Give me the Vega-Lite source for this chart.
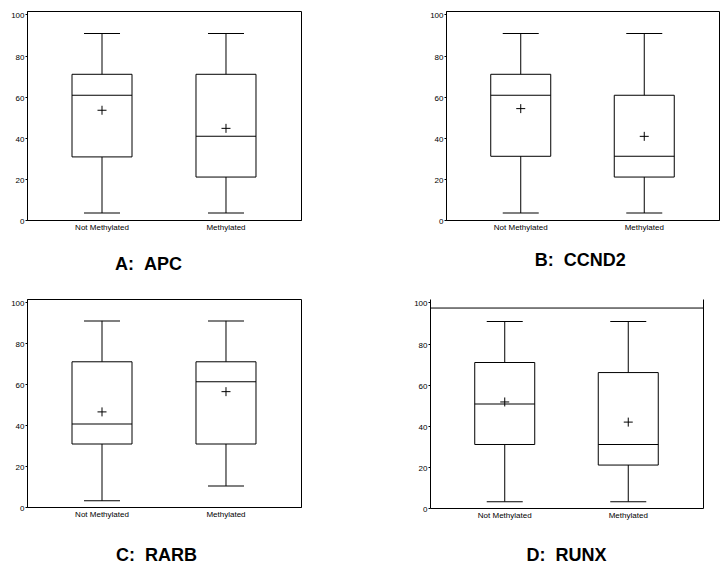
{
  "$schema": "https://vega.github.io/schema/vega-lite/v6.json",
  "padding": {"left": 0, "top": 10, "right": 0, "bottom": 0},
  "background": "white",
  "datasets": {
    "stats": [
      {"panel": "A", "group": "Not Methylated", "min": 3.4, "q1": 30.7, "median": 60.7, "q3": 70.9, "max": 90.7, "mean": 53.4},
      {"panel": "A", "group": "Methylated", "min": 3.4, "q1": 20.9, "median": 40.7, "q3": 70.9, "max": 90.7, "mean": 44.6},
      {"panel": "B", "group": "Not Methylated", "min": 3.4, "q1": 31.0, "median": 60.7, "q3": 70.9, "max": 90.7, "mean": 54.2},
      {"panel": "B", "group": "Methylated", "min": 3.4, "q1": 20.9, "median": 31.0, "q3": 60.7, "max": 90.7, "mean": 40.7},
      {"panel": "C", "group": "Not Methylated", "min": 3.0, "q1": 30.8, "median": 40.6, "q3": 71.0, "max": 91.0, "mean": 46.5},
      {"panel": "C", "group": "Methylated", "min": 10.3, "q1": 30.8, "median": 61.3, "q3": 71.0, "max": 91.0, "mean": 56.4},
      {"panel": "D", "group": "Not Methylated", "min": 3.1, "q1": 30.9, "median": 50.6, "q3": 70.8, "max": 90.8, "mean": 51.6},
      {"panel": "D", "group": "Methylated", "min": 3.1, "q1": 20.9, "median": 30.9, "q3": 65.9, "max": 90.8, "mean": 41.8}
    ],
    "ref": [{"panel": "D", "level": 97.3}]
  },
  "vconcat": [
    {
      "spacing": 117,
      "hconcat": [
        {
          "width": 274, "height": 209,
          "data": {"name": "stats"},
          "transform": [{"filter": "datum.panel == 'A'"}],
          "encoding": {"x": {"field": "group", "type": "nominal", "sort": ["Not Methylated", "Methylated"], "scale": {"paddingInner": 0.5, "paddingOuter": 0.355}, "axis": {"title": "A:\u00a0\u00a0APC", "titleX": 121, "titleY": 44.7, "titleBaseline": "middle", "titleAlign": "center"}}},
          "layer": [
            {"mark": {"type": "rule", "color": "black", "strokeWidth": 1}, "encoding": {"y": {"field": "min", "type": "quantitative", "title": null, "scale": {"domain": [0, 101.7], "nice": false}, "axis": {"values": [0, 20, 40, 60, 80, 100]}}, "y2": {"field": "max"}}},
            {"mark": {"type": "bar", "fill": "white", "stroke": "black", "strokeWidth": 1, "width": 60}, "encoding": {"y": {"field": "q1", "type": "quantitative", "title": null}, "y2": {"field": "q3"}}},
            {"mark": {"type": "tick", "color": "black", "size": 60, "thickness": 1, "opacity": 1}, "encoding": {"y": {"field": "median", "type": "quantitative", "title": null}}},
            {"mark": {"type": "tick", "color": "black", "size": 36, "thickness": 1, "opacity": 1}, "encoding": {"y": {"field": "min", "type": "quantitative", "title": null}}},
            {"mark": {"type": "tick", "color": "black", "size": 36, "thickness": 1, "opacity": 1}, "encoding": {"y": {"field": "max", "type": "quantitative", "title": null}}},
            {"mark": {"type": "point", "shape": "M-1,0H1M0,-1V1", "filled": false, "stroke": "black", "strokeWidth": 1, "size": 81, "opacity": 1}, "encoding": {"y": {"field": "mean", "type": "quantitative", "title": null}}}
          ]
        },
        {
          "width": 273, "height": 209,
          "data": {"name": "stats"},
          "transform": [{"filter": "datum.panel == 'B'"}],
          "encoding": {"x": {"field": "group", "type": "nominal", "sort": ["Not Methylated", "Methylated"], "scale": {"paddingInner": 0.5, "paddingOuter": 0.355}, "axis": {"title": "B:\u00a0\u00a0CCND2", "titleX": 133.7, "titleY": 40, "titleBaseline": "middle", "titleAlign": "center"}}},
          "layer": [
            {"mark": {"type": "rule", "color": "black", "strokeWidth": 1}, "encoding": {"y": {"field": "min", "type": "quantitative", "title": null, "scale": {"domain": [0, 101.7], "nice": false}, "axis": {"values": [0, 20, 40, 60, 80, 100]}}, "y2": {"field": "max"}}},
            {"mark": {"type": "bar", "fill": "white", "stroke": "black", "strokeWidth": 1, "width": 60}, "encoding": {"y": {"field": "q1", "type": "quantitative", "title": null}, "y2": {"field": "q3"}}},
            {"mark": {"type": "tick", "color": "black", "size": 60, "thickness": 1, "opacity": 1}, "encoding": {"y": {"field": "median", "type": "quantitative", "title": null}}},
            {"mark": {"type": "tick", "color": "black", "size": 36, "thickness": 1, "opacity": 1}, "encoding": {"y": {"field": "min", "type": "quantitative", "title": null}}},
            {"mark": {"type": "tick", "color": "black", "size": 36, "thickness": 1, "opacity": 1}, "encoding": {"y": {"field": "max", "type": "quantitative", "title": null}}},
            {"mark": {"type": "point", "shape": "M-1,0H1M0,-1V1", "filled": false, "stroke": "black", "strokeWidth": 1, "size": 81, "opacity": 1}, "encoding": {"y": {"field": "mean", "type": "quantitative", "title": null}}}
          ]
        }
      ]
    },
    {
      "spacing": 102,
      "hconcat": [
        {
          "width": 274, "height": 208,
          "data": {"name": "stats"},
          "transform": [{"filter": "datum.panel == 'C'"}],
          "encoding": {"x": {"field": "group", "type": "nominal", "sort": ["Not Methylated", "Methylated"], "scale": {"paddingInner": 0.5, "paddingOuter": 0.355}, "axis": {"title": "C:\u00a0\u00a0RARB", "titleX": 129, "titleY": 48, "titleBaseline": "middle", "titleAlign": "center"}}},
          "layer": [
            {"mark": {"type": "rule", "color": "black", "strokeWidth": 1}, "encoding": {"y": {"field": "min", "type": "quantitative", "title": null, "scale": {"domain": [0, 101.7], "nice": false}, "axis": {"values": [0, 20, 40, 60, 80, 100]}}, "y2": {"field": "max"}}},
            {"mark": {"type": "bar", "fill": "white", "stroke": "black", "strokeWidth": 1, "width": 60}, "encoding": {"y": {"field": "q1", "type": "quantitative", "title": null}, "y2": {"field": "q3"}}},
            {"mark": {"type": "tick", "color": "black", "size": 60, "thickness": 1, "opacity": 1}, "encoding": {"y": {"field": "median", "type": "quantitative", "title": null}}},
            {"mark": {"type": "tick", "color": "black", "size": 36, "thickness": 1, "opacity": 1}, "encoding": {"y": {"field": "min", "type": "quantitative", "title": null}}},
            {"mark": {"type": "tick", "color": "black", "size": 36, "thickness": 1, "opacity": 1}, "encoding": {"y": {"field": "max", "type": "quantitative", "title": null}}},
            {"mark": {"type": "point", "shape": "M-1,0H1M0,-1V1", "filled": false, "stroke": "black", "strokeWidth": 1, "size": 81, "opacity": 1}, "encoding": {"y": {"field": "mean", "type": "quantitative", "title": null}}}
          ]
        },
        {
          "width": 273, "height": 209,
          "view": {"stroke": null},
          "resolve": {"axis": {"y": "independent"}},
          "layer": [
            {
              "data": {"name": "stats"},
              "transform": [{"filter": "datum.panel == 'D'"}],
              "encoding": {"x": {"field": "group", "type": "nominal", "sort": ["Not Methylated", "Methylated"], "scale": {"paddingInner": 0.5, "paddingOuter": 0.355}, "axis": {"title": "D:\u00a0\u00a0RUNX", "titleX": 136, "titleY": 47.3, "titleBaseline": "middle", "titleAlign": "center"}}},
              "layer": [
                {"mark": {"type": "rule", "color": "black", "strokeWidth": 1}, "encoding": {"y": {"field": "min", "type": "quantitative", "title": null, "scale": {"domain": [0, 101.7], "nice": false}, "axis": {"values": [0, 20, 40, 60, 80, 100]}}, "y2": {"field": "max"}}},
                {"mark": {"type": "bar", "fill": "white", "stroke": "black", "strokeWidth": 1, "width": 60}, "encoding": {"y": {"field": "q1", "type": "quantitative", "title": null}, "y2": {"field": "q3"}}},
                {"mark": {"type": "tick", "color": "black", "size": 60, "thickness": 1, "opacity": 1}, "encoding": {"y": {"field": "median", "type": "quantitative", "title": null}}},
                {"mark": {"type": "tick", "color": "black", "size": 36, "thickness": 1, "opacity": 1}, "encoding": {"y": {"field": "min", "type": "quantitative", "title": null}}},
                {"mark": {"type": "tick", "color": "black", "size": 36, "thickness": 1, "opacity": 1}, "encoding": {"y": {"field": "max", "type": "quantitative", "title": null}}},
                {"mark": {"type": "point", "shape": "M-1,0H1M0,-1V1", "filled": false, "stroke": "black", "strokeWidth": 1, "size": 81, "opacity": 1}, "encoding": {"y": {"field": "mean", "type": "quantitative", "title": null}}}
              ]
            },
            {
              "data": {"name": "ref"},
              "mark": {"type": "rule", "color": "black", "strokeWidth": 1},
              "encoding": {"y": {"field": "level", "type": "quantitative", "title": null, "axis": {"orient": "right", "labels": false, "ticks": false, "domain": true, "minExtent": 0, "maxExtent": 0}}}
            }
          ]
        }
      ]
    }
  ],
  "spacing": 23,
  "config": {
    "view": {"stroke": "black", "strokeWidth": 1},
    "axis": {"grid": false, "domainColor": "black", "tickColor": "black", "labelColor": "black", "labelFont": "Liberation Sans", "labelFontSize": 8, "titleFont": "Liberation Sans", "titleFontSize": 18, "titleFontWeight": "bold", "titleColor": "black"},
    "axisX": {"ticks": false, "labelPadding": 3, "labelAngle": 0},
    "axisY": {"tickSize": 2, "labelPadding": 1, "labelOffset": 1.5, "minExtent": 26, "maxExtent": 26}
  }
}
